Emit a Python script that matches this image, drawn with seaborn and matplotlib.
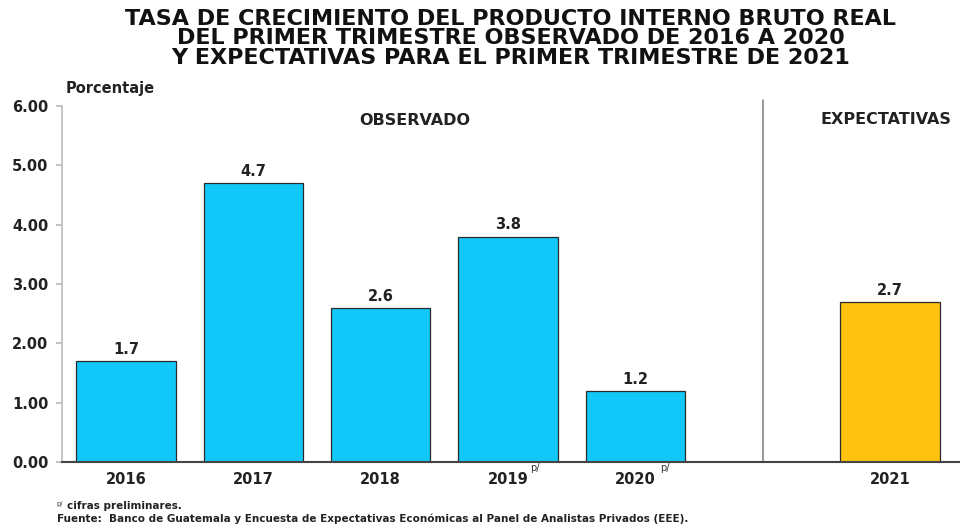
import matplotlib
matplotlib.use("Agg")
import matplotlib.pyplot as plt
import seaborn as sns
import pandas as pd

years = ["2016", "2017", "2018", "2019", "2020", "2021"]
superscripts = ["", "", "", "p/", "p/", ""]
values = [1.7, 4.7, 2.6, 3.8, 1.2, 2.7]
kind = ["Observado", "Observado", "Observado", "Observado", "Observado", "Expectativas"]
positions = [0, 1, 2, 3, 4, 6]
yticks = [0, 1, 2, 3, 4, 5, 6]

sns.set_theme(style="white")
plt.rcParams["font.family"] = ["DejaVu Sans"]

df = pd.DataFrame({"pos": positions, "valor": values, "tipo": kind, "anio": years})

fig = plt.figure(figsize=(9.6, 5.25), dpi=100)
ax = fig.add_axes([0.065, 0.12, 0.935, 0.678])

sns.barplot(data=df, x="pos", y="valor", hue="tipo", native_scale=True,
            palette={"Observado": "#12C8F8", "Expectativas": "#FFC20E"},
            saturation=1, width=0.78, edgecolor="#2A2A2A", linewidth=0.9,
            legend=False, ax=ax, dodge=False)

ax.set_xlim(-0.5, 6.55)
ax.set_ylim(0, 6)
ax.set_yticks(yticks)
ax.set_yticklabels([f"{v:.2f}" for v in yticks], fontsize=10.5, fontweight="bold", color="#222222")
ax.set_xticks(positions)
ax.set_xticklabels(years, fontsize=10.5, fontweight="bold", color="#222222")
ax.set_xlabel("")
ax.set_ylabel("")

for s in ["top", "right"]:
    ax.spines[s].set_visible(False)
ax.spines["left"].set_color("#BBBBBB")
ax.spines["left"].set_linewidth(1.2)
ax.spines["bottom"].set_color("#444444")
ax.spines["bottom"].set_linewidth(1.5)
ax.tick_params(axis="y", length=4, color="#BBBBBB", pad=6, left=True)
ax.tick_params(axis="x", length=0, pad=7)

for p, sup in zip(positions, superscripts):
    if sup:
        ax.annotate(sup, xy=(p, 0), xycoords=("data", "axes fraction"),
                    xytext=(22 if p == 3 else 25, -6), textcoords="offset pixels",
                    ha="left", va="center", fontsize=7, color="#333333")

for p, v in zip(positions, values):
    ax.text(p, v + 0.07, f"{v:.1f}", ha="center", va="bottom", fontsize=10.5,
            fontweight="bold", color="#222222")

ax.plot([5, 5], [0, 6.1], color="#888888", linewidth=1.2, clip_on=False)

ax.text(2.27, 5.75, "OBSERVADO", ha="center", va="center", fontsize=11.5,
        fontweight="bold", color="#222222")
ax.text(5.97, 5.77, "EXPECTATIVAS", ha="center", va="center", fontsize=11.5,
        fontweight="bold", color="#222222")

fig.text(0.068, 0.832, "Porcentaje", ha="left", va="center", fontsize=10.5,
         fontweight="bold", color="#222222")

fig.text(0.532, 0.927,
         "TASA DE CRECIMIENTO DEL PRODUCTO INTERNO BRUTO REAL\n"
         "DEL PRIMER TRIMESTRE OBSERVADO DE 2016 A 2020\n"
         "Y EXPECTATIVAS PARA EL PRIMER TRIMESTRE DE 2021",
         ha="center", va="center", fontsize=16, fontweight="bold",
         color="#111111", linespacing=0.95)

fig.text(0.059, 0.040, "p/", ha="left", va="center",
         fontsize=4.8, color="#333333")
fig.text(0.070, 0.036, "cifras preliminares.", ha="left", va="center",
         fontsize=7.5, fontweight="bold", color="#222222")
fig.text(0.059, 0.012,
         "Fuente:  Banco de Guatemala y Encuesta de Expectativas Económicas al Panel de Analistas Privados (EEE).",
         ha="left", va="center", fontsize=7.5, fontweight="bold", color="#222222")

fig.savefig("out.png", dpi=100)
